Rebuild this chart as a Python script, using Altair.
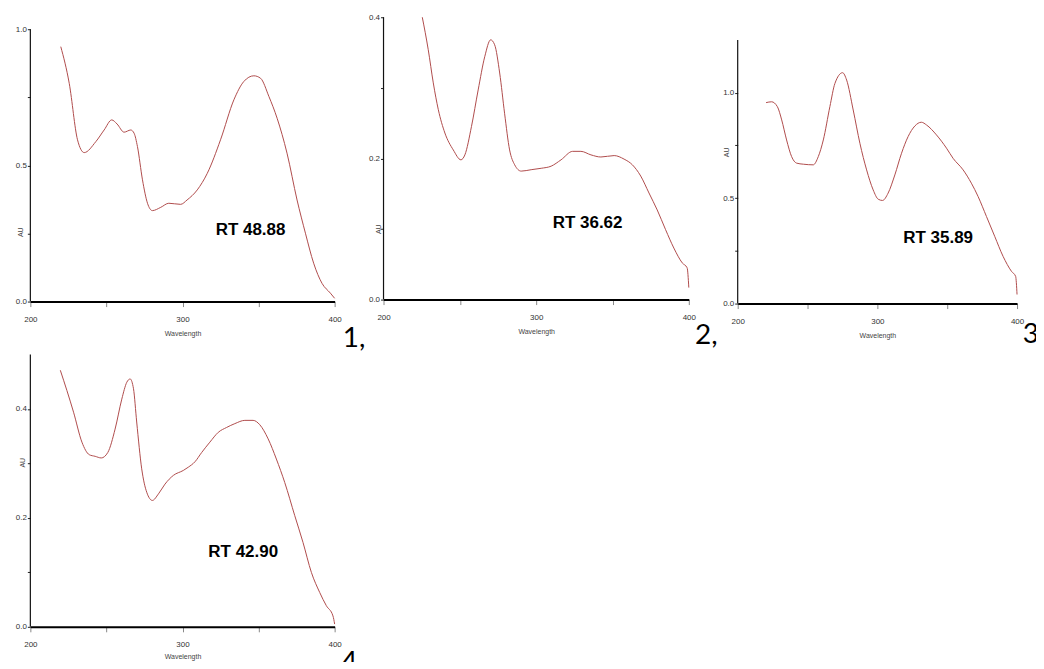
import altair as alt
import pandas as pd

# ---- spectra (wavelength nm, absorbance AU) ----
wl1 = [220, 225.6, 231, 235.4, 243, 248.5, 253.5, 257, 261.6, 266, 268.2, 270.4, 273.7, 277,
       280.2, 285.7, 291, 298.8, 303, 309.7, 316.3, 325, 333.8, 340.3, 346.9, 351.3, 356.8,
       362.2, 368.7, 375.3, 380.8, 386.2, 391.7, 397.2, 400]
au1 = [0.936, 0.80, 0.594, 0.547, 0.587, 0.630, 0.667, 0.652, 0.622, 0.630, 0.618, 0.569, 0.447,
       0.361, 0.334, 0.346, 0.361, 0.357, 0.373, 0.41, 0.471, 0.594, 0.741, 0.808, 0.829, 0.82,
       0.753, 0.673, 0.545, 0.373, 0.251, 0.141, 0.067, 0.031, 0.012]

wl2 = [225.4, 229.3, 232.6, 235.9, 240.2, 245.7, 250.7, 253.3, 257.6, 262, 266.3, 270.2, 272.8,
       276.1, 279.3, 282.6, 285.9, 290.2, 296.7, 303.3, 309.8, 316.3, 323.9, 329.3, 335.9, 342.4,
       351.1, 357.6, 363, 368.5, 373.9, 379.3, 384.8, 390.2, 395.7, 398.9, 400]
au2 = [0.4, 0.354, 0.307, 0.269, 0.236, 0.212, 0.198, 0.205, 0.245, 0.297, 0.344, 0.368, 0.361,
       0.321, 0.264, 0.212, 0.191, 0.182, 0.184, 0.186, 0.189, 0.198, 0.21, 0.21, 0.205, 0.202,
       0.204, 0.199, 0.191, 0.175, 0.151, 0.127, 0.099, 0.073, 0.052, 0.045, 0.017]

wl3 = [220.3, 224.3, 228.4, 231.5, 235, 238.6, 242.2, 247, 254.1, 257.7, 261.3, 266, 269.6, 275.1,
       278, 282.7, 287.5, 292.3, 297, 300.6, 303.7, 307.7, 312.5, 317.3, 322, 326.8, 331.5, 335.2,
       342.3, 349.5, 354.2, 361.4, 367.3, 372.1, 378.1, 384, 390, 396, 399, 400]
au3 = [0.953, 0.957, 0.934, 0.871, 0.776, 0.697, 0.666, 0.661, 0.658, 0.697, 0.776, 0.934, 1.044,
       1.095, 1.06, 0.918, 0.76, 0.634, 0.539, 0.495, 0.489, 0.524, 0.61, 0.713, 0.792, 0.842,
       0.86, 0.847, 0.8, 0.737, 0.689, 0.634, 0.571, 0.508, 0.413, 0.319, 0.224, 0.153, 0.129, 0.043]

wl4 = [219.7, 224, 228.4, 233.9, 238.7, 242.6, 246.6, 250.9, 255.7, 260.1, 263.4, 265.6, 267.8,
       269.9, 273.2, 276.5, 280.2, 284.2, 288.5, 294, 300.5, 303.8, 308.2, 312.6, 318, 323.5, 329,
       334.4, 341, 346.4, 350.8, 356.3, 361.7, 367.2, 373.8, 379.2, 384.7, 390.2, 394.5, 398.9, 400]
au4 = [0.471, 0.434, 0.394, 0.339, 0.316, 0.313, 0.31, 0.32, 0.363, 0.418, 0.449, 0.455, 0.437,
       0.376, 0.29, 0.247, 0.232, 0.244, 0.262, 0.278, 0.287, 0.293, 0.303, 0.32, 0.339, 0.357,
       0.366, 0.373, 0.379, 0.379, 0.371, 0.345, 0.308, 0.265, 0.204, 0.155, 0.1, 0.063, 0.039,
       0.02, 0.005]

rt_labels = ["RT 48.88", "RT 36.62", "RT 35.89", "RT 42.90"]
rt_wl = [344.7, 333.7, 343.5, 339.9]
rt_au = [0.263, 0.108, 0.311, 0.137]

num_labels = ["1,", "2,", "3,", "4"]
num_wl = [405.3, 404.1, 404.0, 404.4]
num_au = [-0.085, -0.0325, -0.085, -0.040]

axis_top = [1.0, 0.4, 1.25, 0.5]
y_ticks = [[0, 0.25, 0.5, 0.75, 1.0], [0, 0.1, 0.2, 0.3, 0.4],
           [0, 0.25, 0.5, 0.75, 1.0], [0, 0.1, 0.2, 0.3, 0.4]]
y_labeled = [[0, 0.5, 1.0], [0, 0.2, 0.4], [0, 0.5, 1.0], [0, 0.2, 0.4]]
x_ticks = [200, 250, 300, 350, 400]

# ---- layout (styling only) ----
dom_top = [1.044, 0.4, 1.358, 0.5]
widths = [305, 306, 280, 305]
heights = [285, 283, 287, 273]
au_title_x = [-9.5, -5, -11, -8]
au_title_y = [215, 212, 135, 108]
x_title_pad = [6, 6, 6, 4]

LINE = "#b04c4c"
SMALL = "Liberation Sans"


def panel(i, wl, au):
    xs = alt.Scale(domain=[200, 400], nice=False, zero=False)
    ys = alt.Scale(domain=[0, dom_top[i]], nice=False, zero=False)
    labs = [f"{v:.1f}" for v in y_labeled[i]]
    yaxis = alt.Axis(
        values=y_ticks[i],
        labelExpr=f"indexof({labs}, format(datum.value, '.1f')) >= 0 ? format(datum.value, '.1f') : ''",
        domain=False, grid=False, ticks=True, tickSize=3, tickColor="#222",
        labelFont=SMALL, labelFontSize=8, labelColor="#333", labelPadding=1,
        title="AU", titleFont=SMALL, titleFontSize=7, titleFontWeight="normal",
        titleColor="#444", titleX=au_title_x[i], titleY=au_title_y[i], titleAngle=-90,
        titleAlign="center", titleBaseline="middle",
    )
    xaxis = alt.Axis(
        values=x_ticks,
        labelExpr="datum.value % 100 == 0 ? datum.label : ''",
        domain=True, domainColor="black", domainWidth=2, grid=False,
        tickSize=5, tickColor="#888", labelFlush=False,
        labelFont=SMALL, labelFontSize=8, labelColor="#333", labelPadding=9,
        title="Wavelength", titleFont=SMALL, titleFontSize=7, titleFontWeight="normal",
        titleColor="#444", titlePadding=x_title_pad[i],
    )
    df = pd.DataFrame({"wl": wl, "au": au})
    line = alt.Chart(df).mark_line(color=LINE, strokeWidth=1, interpolate="monotone").encode(
        x=alt.X("wl:Q", scale=xs, axis=xaxis),
        y=alt.Y("au:Q", scale=ys, axis=yaxis),
    )
    rule = alt.Chart(pd.DataFrame({"wl": [200], "au": [0], "au2": [axis_top[i]]})).mark_rule(
        color="#111", strokeWidth=1.2
    ).encode(x=alt.X("wl:Q", scale=xs), y=alt.Y("au:Q", scale=ys), y2="au2:Q")
    rt = alt.Chart(pd.DataFrame({"wl": [rt_wl[i]], "au": [rt_au[i]], "t": [rt_labels[i]]})).mark_text(
        font="Liberation Sans", fontSize=17, fontWeight="bold", color="black",
        align="center", baseline="middle"
    ).encode(x=alt.X("wl:Q", scale=xs), y=alt.Y("au:Q", scale=ys), text="t:N")
    num = alt.Chart(pd.DataFrame({"wl": [num_wl[i]], "au": [num_au[i]], "t": [num_labels[i]]})).mark_text(
        font="Lato", fontSize=28, color="black", align="left", baseline="top"
    ).encode(x=alt.X("wl:Q", scale=xs), y=alt.Y("au:Q", scale=ys), text="t:N")
    return alt.layer(rule, line, rt, num).properties(width=widths[i], height=heights[i])


panels = [panel(0, wl1, au1), panel(1, wl2, au2), panel(2, wl3, au3), panel(3, wl4, au4)]

chart = alt.concat(
    *panels, columns=3, spacing={"row": 51, "column": 49}, bounds="flush"
).properties(
    padding={"left": 6.4, "top": 4.5, "right": -10, "bottom": -16},
    background="white",
).configure_view(stroke="transparent", strokeWidth=0)

chart.save("out.html", embed_options={"renderer": "svg", "actions": False})
